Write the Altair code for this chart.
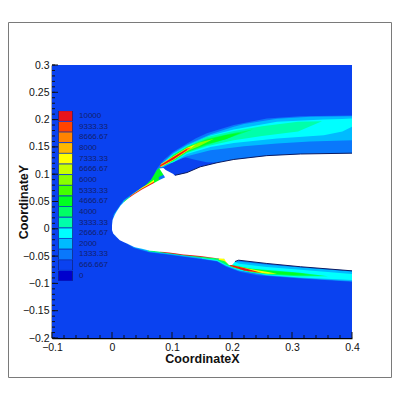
import altair as alt
import pandas as pd
import numpy as np

levels = ["10000", "9333.33", "8666.67", "8000", "7333.33", "6666.67", "6000", "5333.33",
          "4666.67", "4000", "3333.33", "2666.67", "2000", "1333.33", "666.667", "0"]
colors = ["#e8141c", "#ff4400", "#ff8400", "#ffb800", "#ffff00", "#c8ff00", "#88ff00", "#44ff00",
          "#00ff22", "#00ff66", "#00ffaa", "#00ffff", "#00bbff", "#0a78fb", "#0a42f0", "#0000cc"]

# (level, [(x, top, bottom), ...])  -- painted in order
bands = [
    ("666.667", [(-0.1, 0.3, -0.2), (0.4, 0.3, -0.2)]),
    # upper plume
    ("1333.33", [(0.0, 0.01, 0.0), (0.002, 0.025, 0.0), (0.008, 0.035, 0.02), (0.019, 0.0525, 0.04), (0.036, 0.066, 0.05),
                 (0.058, 0.081, 0.07), (0.069, 0.095, 0.08), (0.075, 0.1105, 0.09), (0.086, 0.126, 0.1135),
                 (0.102, 0.141, 0.123), (0.119, 0.152, 0.131), (0.125, 0.156, 0.13), (0.14, 0.166, 0.126),
                 (0.158, 0.175, 0.122), (0.203, 0.19, 0.12), (0.258, 0.202, 0.13), (0.314, 0.206, 0.13), (0.4, 0.2075, 0.13)]),
    ("2000", [(0.08, 0.113, 0.113), (0.086, 0.123, 0.113), (0.102, 0.139, 0.122), (0.125, 0.154, 0.133), (0.164, 0.173, 0.144),
              (0.203, 0.187, 0.149), (0.22, 0.192, 0.151), (0.275, 0.2015, 0.156), (0.33, 0.205, 0.16), (0.4, 0.206, 0.162)]),
    ("2666.67", [(0.083, 0.118, 0.116), (0.102, 0.137, 0.122), (0.125, 0.152, 0.137), (0.164, 0.171, 0.15), (0.203, 0.182, 0.157),
                 (0.275, 0.196, 0.1655), (0.353, 0.2, 0.1715), (0.384, 0.201, 0.178), (0.4, 0.202, 0.187)]),
    ("3333.33", [(0.085, 0.118, 0.116), (0.102, 0.136, 0.123), (0.125, 0.151, 0.139), (0.158, 0.168, 0.151), (0.203, 0.179, 0.162),
                 (0.25, 0.188, 0.17), (0.31, 0.196, 0.178), (0.35, 0.197, 0.197)]),
    ("4000", [(0.088, 0.119, 0.117), (0.102, 0.135, 0.124), (0.125, 0.15, 0.14), (0.158, 0.165, 0.153), (0.2, 0.175, 0.168),
              (0.235, 0.182, 0.182)]),
    ("4666.67", [(0.09, 0.121, 0.118), (0.102, 0.134, 0.125), (0.125, 0.149, 0.141), (0.158, 0.163, 0.155), (0.19, 0.172, 0.164),
                 (0.215, 0.176, 0.176)]),
    ("6000", [(0.09, 0.122, 0.118), (0.102, 0.133, 0.1255), (0.125, 0.1485, 0.142), (0.145, 0.158, 0.151), (0.17, 0.165, 0.165)]),
    ("7333.33", [(0.082, 0.119, 0.113), (0.102, 0.1325, 0.126), (0.125, 0.148, 0.1425), (0.14, 0.155, 0.155)]),
    ("8666.67", [(0.08, 0.117, 0.113), (0.102, 0.132, 0.1265), (0.125, 0.1475, 0.143), (0.132, 0.149, 0.149)]),
    ("10000", [(0.08, 0.116, 0.114), (0.102, 0.131, 0.127), (0.125, 0.146, 0.1445)]),
    # nose shear layer and bulge ahead of the upper step
    ("2000", [(0.004, 0.027, 0.02), (0.02, 0.052, 0.045), (0.04, 0.0675, 0.06), (0.06, 0.082, 0.07)]),
    ("4666.67", [(0.02, 0.0505, 0.045), (0.04, 0.0665, 0.06), (0.055, 0.079, 0.07), (0.065, 0.09, 0.078), (0.075, 0.108, 0.085),
                 (0.08, 0.112, 0.088), (0.088, 0.1, 0.09)]),
    ("7333.33", [(0.03, 0.0595, 0.055), (0.05, 0.0755, 0.07), (0.06, 0.082, 0.075), (0.07, 0.09, 0.082)]),
    ("10000", [(0.03, 0.0595, 0.055), (0.05, 0.074, 0.07), (0.065, 0.083, 0.078), (0.07, 0.086, 0.082)]),
    ("1333.33", [(0.078, 0.095, 0.09), (0.088, 0.1, 0.09), (0.09, 0.097, 0.09)]),
    # lower plume
    ("1333.33", [(0.0, 0.0, -0.003), (0.005, -0.005, -0.0135), (0.036, -0.02, -0.035), (0.063, -0.03, -0.0435), (0.091, -0.03, -0.047),
                 (0.147, -0.04, -0.0555), (0.175, -0.04, -0.06), (0.19, -0.05, -0.0695), (0.214, -0.05, -0.079),
                 (0.242, -0.05, -0.085), (0.275, -0.05, -0.088), (0.314, -0.06, -0.091), (0.4, -0.07, -0.097)]),
    ("2000", [(0.036, -0.02, -0.034), (0.063, -0.03, -0.0425), (0.091, -0.03, -0.046), (0.147, -0.04, -0.0545), (0.175, -0.04, -0.059),
              (0.19, -0.05, -0.068), (0.21, -0.06, -0.0765), (0.258, -0.066, -0.0855), (0.314, -0.071, -0.09), (0.4, -0.078, -0.096)]),
    ("2666.67", [(0.15, -0.045, -0.0545), (0.175, -0.05, -0.0585), (0.19, -0.055, -0.067), (0.212, -0.064, -0.076), (0.258, -0.07, -0.0845),
                 (0.314, -0.075, -0.089), (0.4, -0.083, -0.094)]),
    ("4000", [(0.06, -0.03, -0.041), (0.1, -0.03, -0.046), (0.147, -0.04, -0.053), (0.175, -0.045, -0.057), (0.19, -0.055, -0.066),
              (0.2, -0.066, -0.0705), (0.23, -0.0725, -0.0795), (0.26, -0.0755, -0.0835), (0.31, -0.08, -0.087), (0.36, -0.087, -0.087)]),
    ("4666.67", [(0.2, -0.067, -0.07), (0.23, -0.073, -0.0785), (0.26, -0.077, -0.082), (0.3, -0.08, -0.0845), (0.33, -0.0835, -0.0835)]),
    ("7333.33", [(0.178, -0.05, -0.0565), (0.187, -0.055, -0.059), (0.2, -0.067, -0.0695), (0.23, -0.0735, -0.078), (0.26, -0.079, -0.0825),
                 (0.275, -0.0825, -0.0825)]),
    ("10000", [(0.08, -0.03, -0.0425), (0.12, -0.04, -0.0485), (0.16, -0.045, -0.0525), (0.178, -0.05, -0.0545)]),
    ("10000", [(0.197, -0.066, -0.068), (0.22, -0.072, -0.0765), (0.25, -0.081, -0.081)]),
]

# aerofoil outline
upper_x = [0.0, 0.001, 0.004, 0.008, 0.014, 0.02, 0.03, 0.04, 0.05, 0.06, 0.07, 0.08, 0.088, 0.095, 0.105,
           0.125, 0.147, 0.175, 0.203, 0.258, 0.314, 0.4]
upper_y = [0.006, 0.016, 0.024, 0.032, 0.042, 0.049, 0.058, 0.065, 0.072, 0.078, 0.084, 0.09, 0.094, 0.098, 0.098,
           0.103, 0.1135, 0.121, 0.127, 0.134, 0.137, 0.1385]
lower_x = [0.0, 0.002, 0.005, 0.013, 0.025, 0.036, 0.063, 0.091, 0.119, 0.147, 0.175, 0.187, 0.19, 0.195, 0.2,
           0.205, 0.211, 0.258, 0.314, 0.4]
lower_y = [-0.002, -0.0085, -0.012, -0.021, -0.027, -0.033, -0.04, -0.043, -0.047, -0.05, -0.054, -0.055, -0.06,
           -0.0665, -0.0665, -0.06, -0.0575, -0.0635, -0.0695, -0.077]
notch = [(0.079, 0.1105, 0.1105), (0.0857, 0.1112, 0.099), (0.0896, 0.1075, 0.092), (0.103, 0.1, 0.09)]

x_major = [-0.1, 0, 0.1, 0.2, 0.3, 0.4]
y_major = [-0.2, -0.15, -0.1, -0.05, 0, 0.05, 0.1, 0.15, 0.2, 0.25, 0.3]
x_minor = [-0.08, -0.06, -0.04, -0.02, 0.02, 0.04, 0.06, 0.08, 0.12, 0.14, 0.16, 0.18, 0.22, 0.24, 0.26, 0.28, 0.32, 0.34, 0.36, 0.38]
y_minor = [round(-0.2 + i * 0.01, 2) for i in range(51)]

xs = sorted(set(upper_x) | set(lower_x))
body_df = pd.DataFrame(dict(x=xs, top=np.interp(xs, upper_x, upper_y), bot=np.interp(xs, lower_x, lower_y)))
notch_df = pd.DataFrame(notch, columns=["x", "top", "bot"])

X = alt.X("x:Q", scale=alt.Scale(domain=[-0.1, 0.4], nice=False, zero=False),
          axis=alt.Axis(title="CoordinateX", values=x_major, format="~g", grid=False, ticks=False, domainColor="black",
                        domainWidth=1.6, labelColor="#111", labelFontSize=10.5, labelPadding=4, titleFontSize=12.5,
                        titleFontWeight="bold", titleColor="#111", titlePadding=0, labelFont="Liberation Sans",
                        titleFont="Liberation Sans", labelFlush=False))
Y = alt.Y("top:Q", scale=alt.Scale(domain=[-0.2, 0.3], nice=False, zero=False),
          axis=alt.Axis(title="CoordinateY", values=y_major, format="~g", grid=False, ticks=False, domainColor="black",
                        domainWidth=1.6, labelColor="#111", labelFontSize=10.5, labelPadding=3, titleFontSize=12.5,
                        titleFontWeight="bold", titleColor="#111", titlePadding=-8, labelFont="Liberation Sans",
                        titleFont="Liberation Sans"))

color = alt.Color("level:N", scale=alt.Scale(domain=levels, range=colors),
                  legend=alt.Legend(title=None, orient="none", legendX=6, legendY=46, symbolType="M-1,-0.76H1V0.76H-1Z",
                                    symbolSize=196, clipHeight=10, rowPadding=0.65, labelFontSize=8, labelColor="#12206e",
                                    labelFont="Liberation Sans", labelOffset=6, symbolStrokeColor="#102060", symbolStrokeWidth=0.6,
                                    symbolOpacity=1, values=levels, columns=1))

band_layers = []
for lev, pts in bands:
    df = pd.DataFrame(pts, columns=["x", "top", "bot"])
    df["level"] = lev
    band_layers.append(alt.Chart(df).mark_area(opacity=1).encode(x=X, y=Y, y2="bot:Q", color=color))

body = alt.Chart(body_df).mark_area(color="white", opacity=1).encode(x=X, y=Y, y2="bot:Q")
notch_m = alt.Chart(notch_df).mark_area(color="white", opacity=1).encode(x=X, y=Y, y2="bot:Q")
edge_u = alt.Chart(pd.DataFrame(dict(x=upper_x[14:], top=upper_y[14:]))).mark_line(color="#0a1a60", strokeWidth=1).encode(x=X, y=Y)
edge_l = alt.Chart(pd.DataFrame(dict(x=lower_x[15:], top=lower_y[15:]))).mark_line(color="#0a1a60", strokeWidth=1).encode(x=X, y=Y)

def xt(vals, n):
    return alt.Chart(pd.DataFrame(dict(x=vals))).mark_rule(color="#111", strokeWidth=1).encode(x=X, y=alt.value(273), y2=alt.value(273 - n))
def yt(vals, n):
    return alt.Chart(pd.DataFrame(dict(top=vals))).mark_rule(color="#111", strokeWidth=1).encode(y=Y, x=alt.value(0), x2=alt.value(n))

frame_style = dict(color="#7a7a7a", strokeWidth=1)
one = pd.DataFrame(dict(a=[0]))
frame = [
    alt.Chart(one).mark_rule(**frame_style).encode(x=alt.value(-43.5), x2=alt.value(339.5), y=alt.value(-42.5)),
    alt.Chart(one).mark_rule(**frame_style).encode(x=alt.value(-43.5), x2=alt.value(339.5), y=alt.value(312.5)),
    alt.Chart(one).mark_rule(**frame_style).encode(x=alt.value(-43.5), y=alt.value(-42.5), y2=alt.value(312.5)),
    alt.Chart(one).mark_rule(**frame_style).encode(x=alt.value(339.5), y=alt.value(-42.5), y2=alt.value(312.5)),
]

chart = alt.layer(*band_layers, body, notch_m, edge_u, edge_l, xt(x_major, 6), xt(x_minor, 3), yt(y_major, 6), yt(y_minor, 3), *frame).properties(
    width=300, height=273,
    padding={"left": 44, "top": 57, "right": 40, "bottom": 42},
    autosize=alt.AutoSizeParams(type="none"),
    background="white",
).configure_view(stroke=None)

chart.save("out.html", embed_options={"renderer": "svg", "actions": False})
